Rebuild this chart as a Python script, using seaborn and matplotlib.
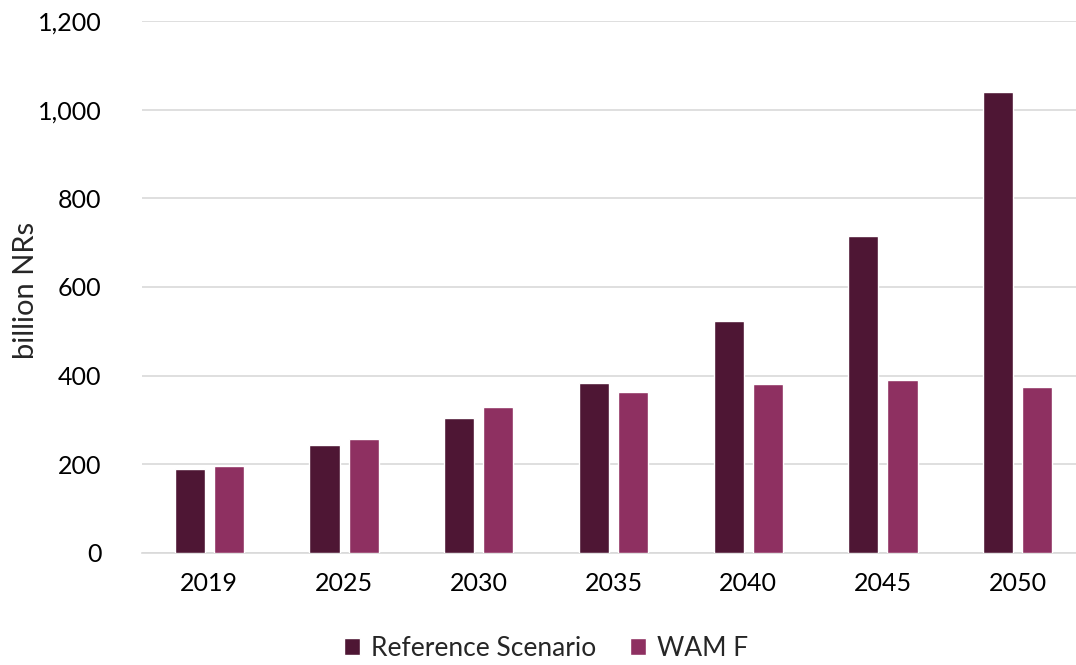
import pandas as pd
import matplotlib.pyplot as plt
import seaborn as sns
from matplotlib.ticker import FuncFormatter

years = ['2019', '2025', '2030', '2035', '2040', '2045', '2050']
reference = [190, 244, 304, 383, 523, 715, 1040]
wam_f = [196, 257, 329, 363, 381, 390, 374]
series_names = ['Reference Scenario', 'WAM F']
colors = ['#4E1634', '#8E3061']

df = pd.DataFrame({
    'year': years * 2,
    'value': reference + wam_f,
    'scenario': [series_names[0]] * len(years) + [series_names[1]] * len(years),
})

sns.set_style('white')
plt.rcParams['font.family'] = ['Lato', 'DejaVu Sans']

fig = plt.figure(figsize=(10.76, 6.65), dpi=100)
# plot area runs slightly past the right edge, like the original
ax = fig.add_axes([142 / 1076, 1 - 553 / 665, 943 / 1076, 532 / 665])

sns.barplot(data=df, x='year', y='value', hue='scenario', palette=colors,
            width=0.58, gap=0.23, saturation=1, ax=ax, zorder=3)

ax.set_ylim(0, 1200)
ax.set_yticks(range(0, 1201, 200))
ax.yaxis.set_major_formatter(FuncFormatter(lambda v, p: f'{int(v):,}'))
ax.yaxis.grid(True, color='#d9d9d9', linewidth=1.2, zorder=0)
ax.set_axisbelow(True)
for s in ['top', 'right', 'left']:
    ax.spines[s].set_visible(False)
ax.spines['bottom'].set_color('#d9d9d9')
ax.spines['bottom'].set_linewidth(1.2)
ax.tick_params(axis='both', length=0, labelsize=18, colors='black')
ax.tick_params(axis='y', pad=29)
ax.tick_params(axis='x', pad=14)
ax.set_xlabel('')
ax.set_ylabel('')
fig.text(26 / 1076, 1 - 290 / 665, 'billion NRs', rotation=90,
         ha='center', va='center', fontsize=21)

handles, labels = ax.get_legend_handles_labels()
ax.get_legend().remove()
fig.legend(handles, labels, loc='center', bbox_to_anchor=(546 / 1076, 1 - 648 / 665),
           ncol=2, frameon=False, fontsize=19, handlelength=0.6, handleheight=0.6,
           handletextpad=0.4, columnspacing=1.3)

fig.savefig('out.png', dpi=100)
